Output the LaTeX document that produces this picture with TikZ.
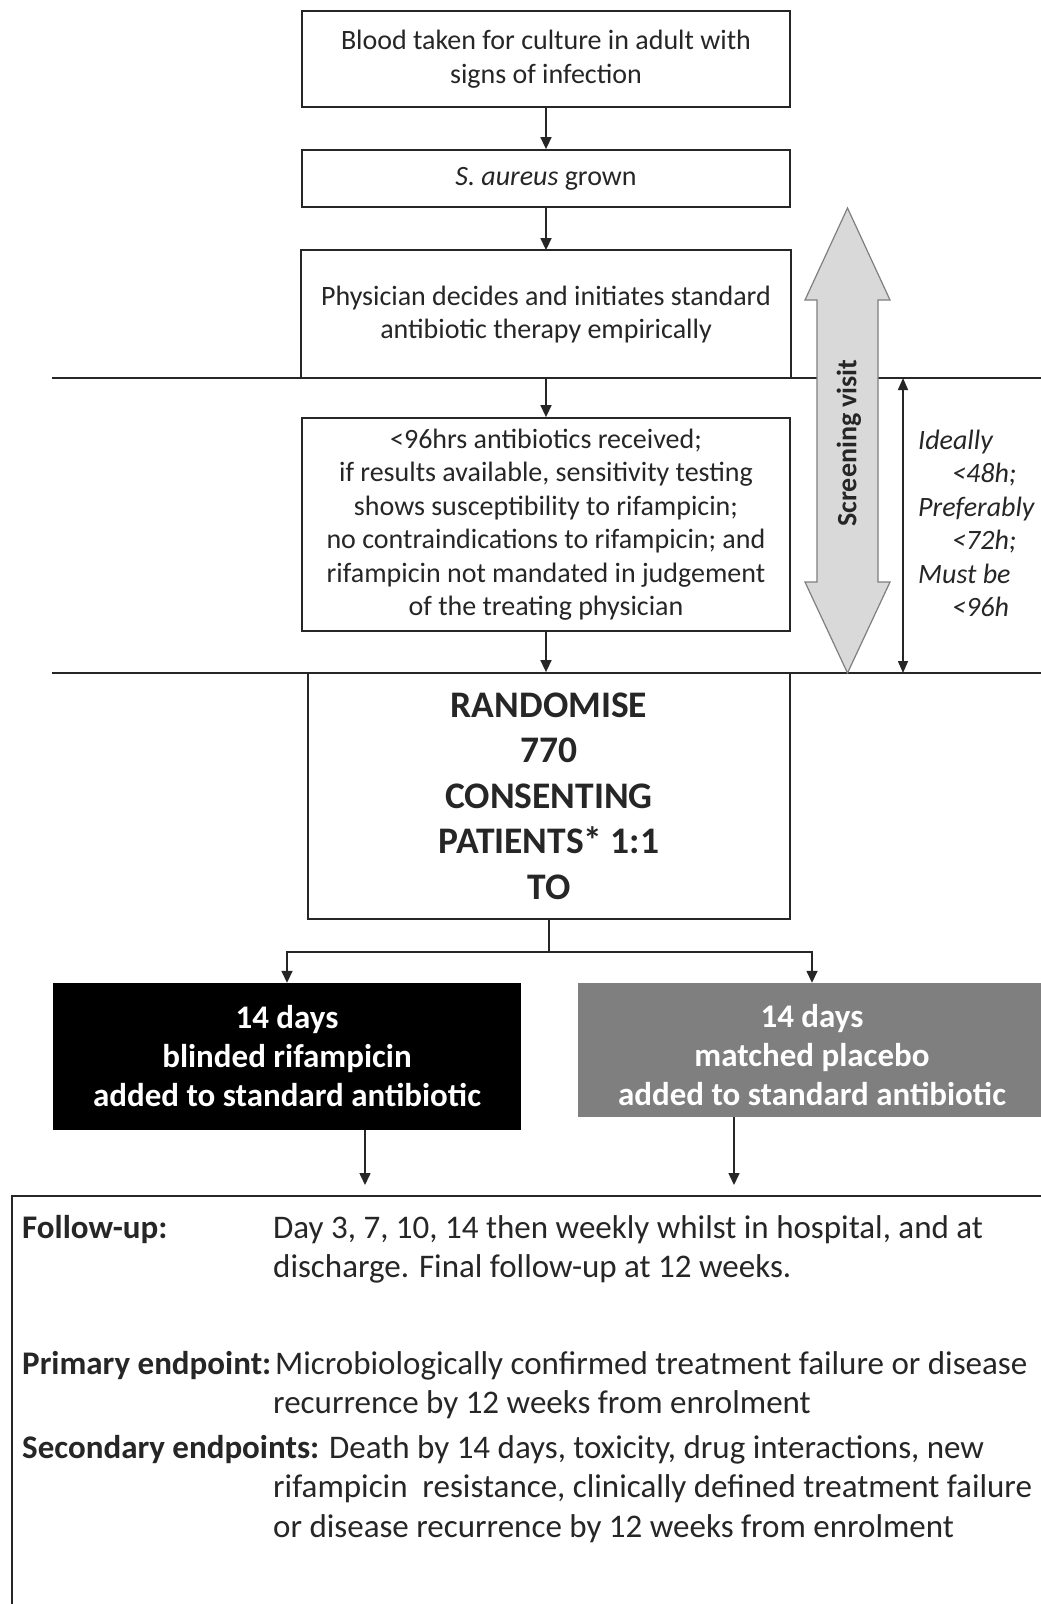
\documentclass[tikz,border=0pt]{standalone}
\usepackage{fontspec}
\setmainfont{Carlito}
\usetikzlibrary{arrows.meta,calc}
\definecolor{ink}{HTML}{262626}
\definecolor{armgray}{HTML}{7F7F7F}
\definecolor{scrfill}{HTML}{D9D9D9}
\definecolor{scrline}{HTML}{7F7F7F}
\begin{document}
\begin{tikzpicture}[x=1pt,y=-1pt,
  box/.style={draw=ink, line width=1.8pt, align=center, inner sep=0pt, text=ink,
    font=\fontsize{28}{33.5}\selectfont},
  boxline/.style={draw=ink, line width=1.8pt},
  hline/.style={draw=ink, line width=1.8pt},
  arr/.style={draw=ink, line width=1.5pt, -{Triangle[length=12pt,width=11pt]}},
  dimarr/.style={draw=ink, line width=1.5pt, {Triangle[length=12pt,width=10pt]}-{Triangle[length=12pt,width=10pt]}},
  armbox/.style={align=center, inner sep=0pt, text=white,
    font=\fontsize{33}{39}\selectfont\bfseries, minimum width=468pt},
  bottxt/.style={anchor=base west, align=left, inner sep=0pt, text=ink,
    font=\fontsize{33}{39.5}\selectfont},
  sidetxt/.style={anchor=base west, align=left, inner sep=0pt, text=ink,
    font=\fontsize{28}{33.5}\selectfont\itshape}
]
\useasboundingbox (0,0) rectangle (1041,1604);
\fill[white] (0,0) rectangle (1041,1604);

% horizontal timeline lines
\coordinate (l1a) at (52,378);
\coordinate (l1b) at (1041,378);
\coordinate (l2a) at (52,673);
\coordinate (l2b) at (1041,673);
\draw[hline] (l1a) -- (l1b);
\draw[hline] (l2a) -- (l2b);

% boxes
\node[box, minimum width=488pt, minimum height=96pt] (b1) at (546,59)
  {Blood taken for culture in adult with\\signs of infection};
\node[box, minimum width=488pt, minimum height=57pt] (b2) at (546,178.5)
  {\textit{S. aureus} grown};
\node[box, draw=none, minimum width=488pt, minimum height=127pt] (b3) at (546,314.5)
  {Physician decides and initiates standard\\antibiotic therapy empirically};
\draw[boxline] (b3.south west) -- (b3.north west) -- (b3.north east) -- (b3.south east);
\node[box, minimum width=488pt, minimum height=213pt] (b4) at (546,524.5)
  {<96hrs antibiotics received;\\if results available, sensitivity testing\\shows susceptibility to rifampicin;\\no contraindications to rifampicin; and\\rifampicin not mandated in judgement\\of the treating physician};
\node[box, minimum width=482pt, minimum height=246pt, font=\fontsize{37.5}{45.5}\selectfont\bfseries] (rand) at (549,796)
  {RANDOMISE\\770\\CONSENTING\\PATIENTS* 1:1\\TO};

% arms
\node[armbox, fill=black, minimum height=147pt] (armL) at (287,1056.5)
  {14 days\\blinded rifampicin\\added to standard antibiotic};
\node[armbox, fill=armgray, minimum height=134pt] (armR) at (812,1050)
  {\rule{0pt}{33pt}14 days\\matched placebo\\added to standard antibiotic};

% arrows
\draw[arr] (b1.south) -- (b2.north);
\draw[arr] (b2.south) -- (b3.north);
\draw[arr] (b3.south) -- (b4.north);
\draw[arr] (b4.south) -- (b4.south |- rand.north);
\coordinate (split) at (549,952);
\draw[draw=ink, line width=1.5pt] (rand.south) -- (split);
\draw[arr] (split) -| (armL.north);
\draw[arr] (split) -| (armR.north);
\coordinate (fL) at (365,1185);
\coordinate (fR) at (734,1185);
\draw[arr] (armL.south -| fL) -- (fL);
\draw[arr] (armR.south -| fR) -- (fR);

% screening visit double arrow
\draw[fill=scrfill, draw=scrline, line width=1.2pt]
  (847.5,208) -- (890,300) -- (878,300) -- (878,582) -- (890,582) -- (847.5,673)
  -- (805,582) -- (817,582) -- (817,300) -- (805,300) -- cycle;
\node[rotate=90, text=ink, font=\fontsize{28}{33.5}\selectfont\bfseries, inner sep=0pt] (scr) at (849,443) {Screening visit};

% time window dimension
\coordinate (d1) at (903,378);
\coordinate (d2) at (903,673);
\draw[dimarr] (d1) -- (d2);
\node[sidetxt] (win) at (918,616.5)
  {Ideally\\\hspace*{34pt}<48h;\\Preferably\\\hspace*{34pt}<72h;\\Must be\\\hspace*{34pt}<96h};

% bottom box
\coordinate (bbR) at (1041,1196);
\coordinate (bbL) at (12,1196);
\coordinate (bbB) at (12,1604);
\draw[boxline] (bbR) -- (bbL) -- (bbB);

% (base anchor = baseline of last line)
\node[bottxt] (fu) at (22,1277.5)
  {\makebox[251pt][l]{\textbf{Follow-up:}}Day 3, 7, 10, 14 then weekly whilst in hospital, and at\\\hspace*{251pt}discharge. Final follow-up at 12 weeks.};
\node[bottxt] (pe) at (22,1413.5)
  {\makebox[253pt][l]{\textbf{Primary endpoint:}}Microbiologically confirmed treatment failure or disease\\\hspace*{251pt}recurrence by 12 weeks from enrolment};
\node[bottxt] (se) at (22,1537)
  {\textbf{Secondary endpoints:} Death by 14 days, toxicity, drug interactions, new\\\hspace*{251pt}rifampicin\ \ resistance, clinically defined treatment failure\\\hspace*{251pt}or disease recurrence by 12 weeks from enrolment};
\end{tikzpicture}
\end{document}
